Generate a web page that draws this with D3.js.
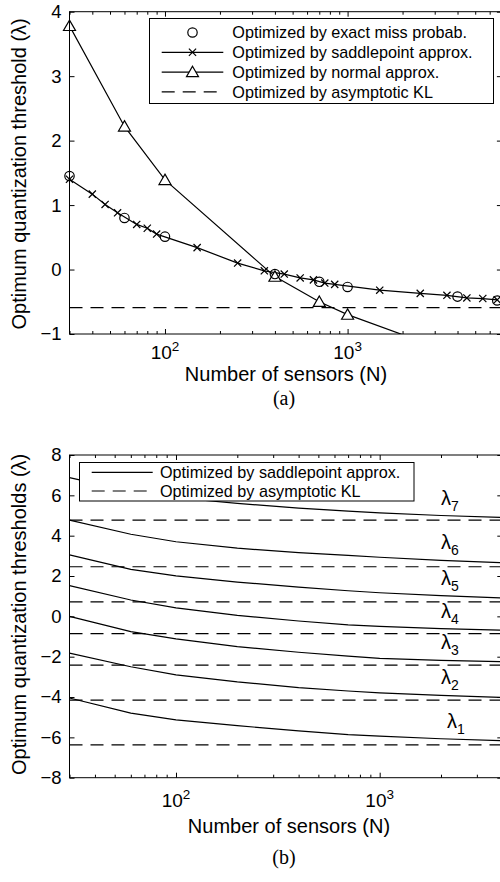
<!DOCTYPE html>
<html>
<head>
<meta charset="utf-8">
<script src="https://cdn.jsdelivr.net/npm/d3@7"></script>
<style>
  body { margin: 0; background: #fff; }
  svg { display: block; }
</style>
</head>
<body>
<svg id="fig" width="500" height="882"></svg>
<script>
// ---------- Panel (a): single threshold versus number of sensors ----------
const sensorsExact = [30, 60, 100, 400, 700, 1000, 4000, 6600];
const thresholdExact = [1.45, 0.80, 0.51, -0.07, -0.19, -0.27, -0.42, -0.48];

const sensorsSaddle = [30, 40, 47, 55, 70, 80, 90, 150, 250, 350, 450,
                       550, 650, 750, 850, 1500, 2500, 3500, 4500, 5500, 6600];
const thresholdSaddle = [1.40, 1.17, 1.01, 0.88, 0.70, 0.64, 0.55, 0.34, 0.10, -0.02,
                         -0.07, -0.13, -0.16, -0.21, -0.23, -0.32, -0.37,
                         -0.40, -0.44, -0.45, -0.47];

const sensorsNormal = [30, 60, 100, 400, 700, 1000, 2000];
const thresholdNormal = [3.78, 2.22, 1.39, -0.11, -0.50, -0.70, -1.01];

const thresholdAsymptoticA = -0.59;

const legendA = ["Optimized by exact miss probab.", "Optimized by saddlepoint approx.",
                 "Optimized by normal approx.", "Optimized by asymptotic KL"];
const yTicksA = [-1, 0, 1, 2, 3, 4];

// ---------- Panel (b): seven thresholds versus number of sensors ----------
const sensorsB = [30, 60, 100, 200, 400, 700, 1000, 2000, 4000];
const lambda1 = [-4.05, -4.80, -5.13, -5.42, -5.68, -5.86, -5.94, -6.07, -6.17];
const lambda2 = [-1.82, -2.50, -2.90, -3.25, -3.53, -3.70, -3.79, -3.92, -4.02];
const lambda3 = [0.00, -0.76, -1.12, -1.50, -1.78, -1.97, -2.08, -2.18, -2.25];
const lambda4 = [1.52, 0.81, 0.42, 0.05, -0.23, -0.42, -0.50, -0.61, -0.69];
const lambda5 = [3.05, 2.33, 2.01, 1.70, 1.45, 1.27, 1.17, 1.03, 0.91];
const lambda6 = [4.77, 4.07, 3.70, 3.38, 3.16, 3.02, 2.93, 2.78, 2.66];
const lambda7 = [6.88, 6.20, 5.88, 5.60, 5.37, 5.22, 5.13, 5.00, 4.90];
const asymptoticKL = [-6.37, -4.15, -2.42, -0.86, 0.72, 2.46, 4.77];

const legendB = ["Optimized by saddlepoint approx.", "Optimized by asymptotic KL"];
const yTicksB = [-8, -6, -4, -2, 0, 2, 4, 6, 8];
const lambdaSeries = [lambda1, lambda2, lambda3, lambda4, lambda5, lambda6, lambda7];

// ---------- shared styling ----------
const SANS = '"Liberation Sans", Arial, Helvetica, sans-serif';
const SERIF = '"Liberation Serif", "Times New Roman", serif';
const DASH = "13,8";
const LW = 1.2;
const svg = d3.select("#fig");
const fmtMinus = d => (d < 0 ? "\u2212" + Math.abs(d) : String(d));

function minorLogTicks(lo, hi) {
  const out = [];
  for (let dec = 10; dec <= hi; dec *= 10) {
    for (let m = 2; m <= 9; m++) {
      const v = m * dec;
      if (v >= lo && v <= hi) out.push(v);
    }
  }
  return out;
}

function drawAxes(g, x, y, yTicks, majorX) {
  const [x0, x1] = x.range();
  const [y0, y1] = y.range(); // y0 bottom, y1 top
  const [dlo, dhi] = x.domain();
  const minorX = minorLogTicks(dlo, dhi);

  const style = sel => {
    sel.select(".domain").remove();
    sel.selectAll("line").attr("stroke", "#000").attr("stroke-width", 1);
  };

  // inward ticks on all four sides
  g.append("g").attr("transform", `translate(0,${y0})`)
    .call(d3.axisBottom(x).tickValues(majorX).tickSize(-5).tickSizeOuter(0).tickFormat(""))
    .call(style);
  g.append("g").attr("transform", `translate(0,${y0})`)
    .call(d3.axisBottom(x).tickValues(minorX).tickSize(-3).tickSizeOuter(0).tickFormat(""))
    .call(style);
  g.append("g").attr("transform", `translate(0,${y1})`)
    .call(d3.axisTop(x).tickValues(majorX).tickSize(-5).tickSizeOuter(0).tickFormat(""))
    .call(style);
  g.append("g").attr("transform", `translate(0,${y1})`)
    .call(d3.axisTop(x).tickValues(minorX).tickSize(-3).tickSizeOuter(0).tickFormat(""))
    .call(style);

  const left = g.append("g").attr("transform", `translate(${x0},0)`)
    .call(d3.axisLeft(y).tickValues(yTicks).tickSize(-5).tickSizeOuter(0)
      .tickPadding(8).tickFormat(fmtMinus))
    .call(style);
  left.selectAll("text").attr("font-family", SANS).attr("font-size", 18.5).attr("fill", "#000");

  g.append("g").attr("transform", `translate(${x1},0)`)
    .call(d3.axisRight(y).tickValues(yTicks).tickSize(-5).tickSizeOuter(0).tickFormat(""))
    .call(style);

  // frame (its right edge falls just past the page border)
  g.append("rect")
    .attr("x", x0).attr("y", y1)
    .attr("width", x1 - x0).attr("height", y0 - y1)
    .attr("fill", "none").attr("stroke", "#000").attr("stroke-width", 1);
}

function powerLabels(g, x, values, baseline) {
  values.forEach(v => {
    const t = g.append("text")
      .attr("x", x(v)).attr("y", baseline)
      .attr("text-anchor", "middle")
      .attr("font-family", SANS).attr("font-size", 19).attr("fill", "#000");
    t.append("tspan").text("10");
    t.append("tspan").attr("dy", -8).attr("font-size", 13.5).text(String(Math.round(Math.log10(v))));
  });
}

function clipFor(id, x, y) {
  const [x0, x1] = x.range();
  const [y0, y1] = y.range();
  svg.append("defs").append("clipPath").attr("id", id)
    .append("rect").attr("x", x0).attr("y", y1).attr("width", x1 - x0).attr("height", y0 - y1);
  return `url(#${id})`;
}

// marker shapes
const circleMark = (g, cx, cy) => g.append("circle").attr("cx", cx).attr("cy", cy).attr("r", 4.7)
  .attr("fill", "none").attr("stroke", "#000").attr("stroke-width", LW);
const crossMark = (g, cx, cy) => g.append("path")
  .attr("d", `M${cx - 3.6},${cy - 3.6}L${cx + 3.6},${cy + 3.6}M${cx - 3.6},${cy + 3.6}L${cx + 3.6},${cy - 3.6}`)
  .attr("stroke", "#000").attr("stroke-width", LW).attr("fill", "none");
const triMark = (g, cx, cy) => g.append("path")
  .attr("d", `M${cx},${cy - 5.8}L${cx + 6},${cy + 4.6}L${cx - 6},${cy + 4.6}Z`)
  .attr("fill", "#fff").attr("stroke", "#000").attr("stroke-width", LW);

// ======================= Panel (a) =======================
{
  const x = d3.scaleLog().domain([30, 7000]).range([69.5, 501.9]);
  const y = d3.scaleLinear().domain([-1, 4]).range([334, 11.7]);
  const g = svg.append("g");
  const clip = clipFor("clipA", x, y);
  const line = d3.line().x(d => x(d[0])).y(d => y(d[1]));
  const inside = v => v >= y.domain()[0] && v <= y.domain()[1];

  // asymptotic KL threshold
  g.append("line")
    .attr("x1", x.range()[0]).attr("x2", x.range()[1])
    .attr("y1", y(thresholdAsymptoticA)).attr("y2", y(thresholdAsymptoticA))
    .attr("stroke", "#000").attr("stroke-width", LW).attr("stroke-dasharray", DASH);

  // normal approximation
  const normalPts = d3.zip(sensorsNormal, thresholdNormal);
  g.append("path").attr("d", line(normalPts)).attr("clip-path", clip)
    .attr("fill", "none").attr("stroke", "#000").attr("stroke-width", LW);

  // saddlepoint approximation
  const saddlePts = d3.zip(sensorsSaddle, thresholdSaddle);
  g.append("path").attr("d", line(saddlePts)).attr("clip-path", clip)
    .attr("fill", "none").attr("stroke", "#000").attr("stroke-width", LW);
  saddlePts.forEach(([n, v]) => crossMark(g, x(n), y(v)));

  normalPts.filter(d => inside(d[1])).forEach(([n, v]) => triMark(g, x(n), y(v)));
  d3.zip(sensorsExact, thresholdExact).forEach(([n, v]) => circleMark(g, x(n), y(v)));

  drawAxes(g, x, y, yTicksA, [100, 1000]);
  powerLabels(g, x, [100, 1000], 359);

  g.append("text").attr("x", 286).attr("y", 374).attr("dy", "0.35em")
    .attr("text-anchor", "middle").attr("font-family", SANS).attr("font-size", 20)
    .text("Number of sensors (N)");
  g.append("text").attr("transform", `translate(26,${(y.range()[0] + y.range()[1]) / 2 + 1}) rotate(-90)`)
    .attr("text-anchor", "middle").attr("font-family", SANS).attr("font-size", 20)
    .text("Optimum quantization threshold (\u03BB)");
  g.append("text").attr("x", 284).attr("y", 398).attr("dy", "0.35em")
    .attr("text-anchor", "middle").attr("font-family", SERIF).attr("font-size", 20)
    .text("(a)");

  // legend
  const lg = g.append("g");
  lg.append("rect").attr("x", 149.5).attr("y", 18.5).attr("width", 344).attr("height", 85)
    .attr("fill", "#fff").attr("stroke", "#000").attr("stroke-width", 1);
  const rowY = i => 32.5 + i * 19.8;
  const sx0 = 161.7, sx1 = 223.3, sxm = (sx0 + sx1) / 2;
  legendA.forEach((label, i) => {
    const ry = rowY(i);
    if (i === 1 || i === 2) {
      lg.append("line").attr("x1", sx0).attr("x2", sx1).attr("y1", ry).attr("y2", ry)
        .attr("stroke", "#000").attr("stroke-width", LW);
    }
    if (i === 3) {
      lg.append("line").attr("x1", sx0).attr("x2", sx1).attr("y1", ry).attr("y2", ry)
        .attr("stroke", "#000").attr("stroke-width", LW).attr("stroke-dasharray", DASH);
    }
    if (i === 0) circleMark(lg, sxm, ry);
    if (i === 1) crossMark(lg, sxm, ry);
    if (i === 2) triMark(lg, sxm, ry);
    lg.append("text").attr("x", 232.3).attr("y", ry).attr("dy", "0.35em")
      .attr("font-family", SANS).attr("font-size", 16.2).text(label);
  });
}

// ======================= Panel (b) =======================
{
  const x = d3.scaleLog().domain([30, 4000]).range([69.5, 502.3]);
  const y = d3.scaleLinear().domain([-8, 8]).range([777.7, 455]);
  const g = svg.append("g");
  const clip = clipFor("clipB", x, y);
  const line = d3.line().x(d => x(d[0])).y(d => y(d[1]));

  asymptoticKL.forEach(v => {
    g.append("line")
      .attr("x1", x.range()[0]).attr("x2", x.range()[1])
      .attr("y1", y(v)).attr("y2", y(v))
      .attr("stroke", "#000").attr("stroke-width", LW).attr("stroke-dasharray", DASH);
  });

  lambdaSeries.forEach((vals, k) => {
    g.append("path").attr("d", line(d3.zip(sensorsB, vals))).attr("clip-path", clip)
      .attr("fill", "none").attr("stroke", "#000").attr("stroke-width", LW);
    // curve label just above the curve near N = 2000
    const i2000 = sensorsB.indexOf(2000);
    const t = g.append("text")
      .attr("x", x(2000) + (k === 0 ? 6 : 0)).attr("y", y(vals[i2000]) - 11)
      .attr("font-family", SANS).attr("font-size", 20).attr("fill", "#000");
    t.append("tspan").text("\u03BB");
    t.append("tspan").attr("dy", 6).attr("font-size", 14).text(String(k + 1));
  });

  drawAxes(g, x, y, yTicksB, [100, 1000]);
  powerLabels(g, x, [100, 1000], 807);

  g.append("text").attr("x", 289).attr("y", 826).attr("dy", "0.35em")
    .attr("text-anchor", "middle").attr("font-family", SANS).attr("font-size", 20)
    .text("Number of sensors (N)");
  g.append("text").attr("transform", `translate(26,${(y.range()[0] + y.range()[1]) / 2 - 2}) rotate(-90)`)
    .attr("text-anchor", "middle").attr("font-family", SANS).attr("font-size", 20)
    .text("Optimum quantization thresholds (\u03BB)");
  g.append("text").attr("x", 284).attr("y", 857).attr("dy", "0.35em")
    .attr("text-anchor", "middle").attr("font-family", SERIF).attr("font-size", 20)
    .text("(b)");

  // legend
  const lg = g.append("g");
  lg.append("rect").attr("x", 79.5).attr("y", 462.5).attr("width", 334.5).attr("height", 38.5)
    .attr("fill", "#fff").attr("stroke", "#000").attr("stroke-width", 1);
  legendB.forEach((label, i) => {
    const ry = 472.3 + i * 18.7;
    const ln = lg.append("line").attr("x1", 91.7).attr("x2", 152.7).attr("y1", ry).attr("y2", ry)
      .attr("stroke", "#000").attr("stroke-width", LW);
    if (i === 1) ln.attr("stroke-dasharray", DASH);
    lg.append("text").attr("x", 160).attr("y", ry).attr("dy", "0.35em")
      .attr("font-family", SANS).attr("font-size", 16.2).text(label);
  });
}
</script>
</body>
</html>
